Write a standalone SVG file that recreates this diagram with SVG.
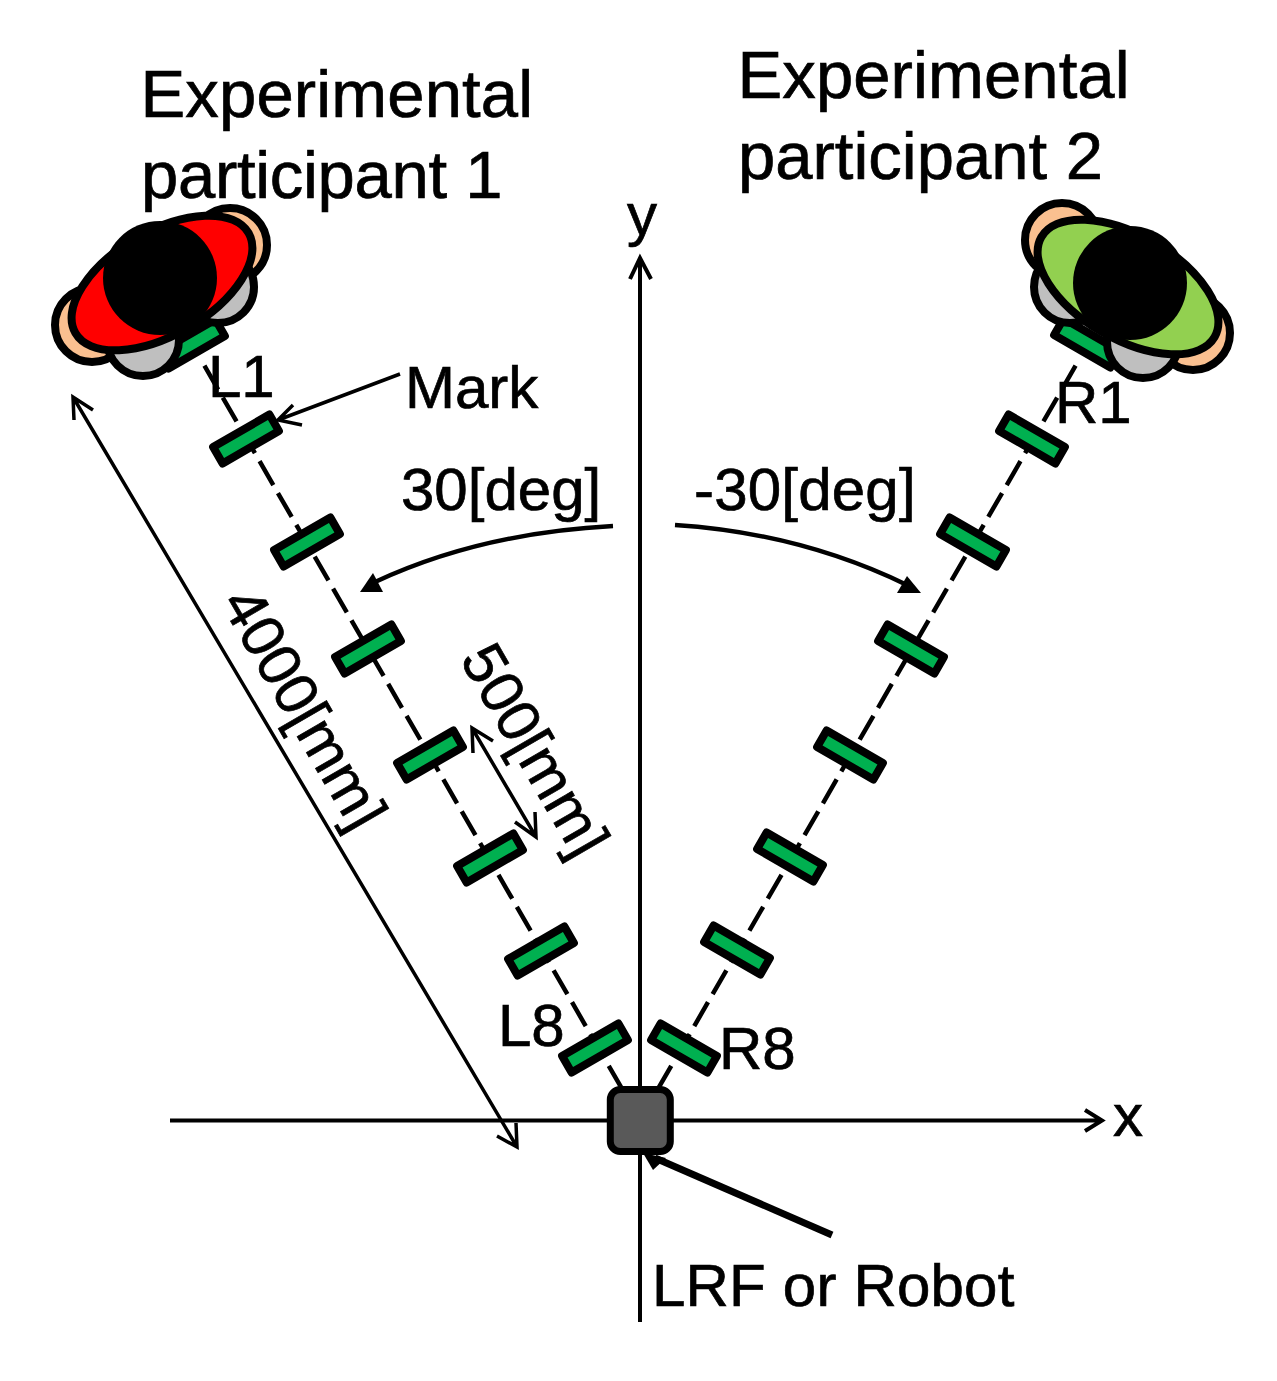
<svg xmlns="http://www.w3.org/2000/svg" width="1277" height="1381" viewBox="0 0 1277 1381">
<style>
text{font-family:"Liberation Sans",Arial,sans-serif;font-size:60px;fill:#000;stroke:#000;stroke-width:.7}
text.big{font-size:67px}
.mark{fill:#00b050;stroke:#000;stroke-width:8;stroke-linejoin:round}
.dash{fill:none;stroke:#000;stroke-width:4.5;stroke-dasharray:27.5 9.25;stroke-dashoffset:1.75}
.line{fill:none;stroke:#000;stroke-width:4}
.thin{fill:none;stroke:#000;stroke-width:3.5}
.ol{stroke:#000;stroke-width:8}
.peach{fill:#fac090}.gray{fill:#bfbfbf}
</style>
<defs>
<rect id="m" class="mark" x="-32.500" y="-9.500" width="65" height="19"/>
</defs>
<rect width="1277" height="1381" fill="#fff"/>
<g id="connectors">
<path class="dash" d="M640 1120L204 365"/>
<path class="dash" d="M640 1120L1076 365"/>
<path class="line" d="M170 1120.5H1102M1085 1110L1102 1120.5L1085 1131"/>
<path class="line" d="M640 1322V258M630 279L640 258L651 279"/>
<path class="thin" d="M73 397L517 1147M74 420L73 397L93 410M497 1136L517 1147L516 1123"/>
<path class="thin" d="M472 728L536 837M473 753L472 728L493 741M515 822L536 837L535 812"/>
<path class="thin" d="M400 374L278 420M293 405L278 420L302 425"/>
<path d="M832 1235L655 1158" fill="none" stroke="#000" stroke-width="7"/>
<path d="M643 1153L666 1158L653 1170Z"/>
<path d="M613 526Q480 533 375 582" fill="none" stroke="#000" stroke-width="4.500"/>
<path d="M360 592L373 573L383 592Z"/>
<path d="M675 525Q800 533 907 585" fill="none" stroke="#000" stroke-width="4.500"/>
<path d="M921 593L907 576L897 593Z"/>
</g>
<g id="L-marks">
<use href="#m" transform="translate(246 439) rotate(-30)"/>
<use href="#m" transform="translate(307 542) rotate(-30)"/>
<use href="#m" transform="translate(368 649) rotate(-30)"/>
<use href="#m" transform="translate(430 755) rotate(-30)"/>
<use href="#m" transform="translate(490 858) rotate(-30)"/>
<use href="#m" transform="translate(541 951) rotate(-30)"/>
<use href="#m" transform="translate(595 1048) rotate(-30)"/>
</g>
<g id="R-marks">
<use href="#m" transform="translate(1032 439) rotate(30)"/>
<use href="#m" transform="translate(973 542) rotate(30)"/>
<use href="#m" transform="translate(911 649) rotate(30)"/>
<use href="#m" transform="translate(850 755) rotate(30)"/>
<use href="#m" transform="translate(790 857) rotate(30)"/>
<use href="#m" transform="translate(737 950) rotate(30)"/>
<use href="#m" transform="translate(684 1048) rotate(30)"/>
</g>
<g id="participant1">
<use href="#m" transform="translate(192 344) rotate(-30)"/>
<circle class="ol peach" cx="230" cy="245" r="37"/>
<circle class="ol peach" cx="92" cy="325" r="37"/>
<circle class="ol gray" cx="218" cy="287" r="36"/>
<circle class="ol gray" cx="143" cy="340" r="36"/>
<ellipse class="ol" fill="#f00" cx="162" cy="283" rx="100" ry="52" transform="rotate(-30 162 283)"/>
<circle cx="160" cy="278" r="57"/>
</g>
<g id="participant2">
<use href="#m" transform="translate(1087 343) rotate(30)"/>
<circle class="ol peach" cx="1062" cy="240" r="37"/>
<circle class="ol peach" cx="1193" cy="333" r="37"/>
<circle class="ol gray" cx="1070" cy="287" r="36"/>
<circle class="ol gray" cx="1143" cy="342" r="36"/>
<ellipse class="ol" fill="#92d050" cx="1128" cy="287" rx="100" ry="52" transform="rotate(30 1128 287)"/>
<circle cx="1130" cy="283" r="57"/>
</g>
<g id="robot">
<rect x="610.300" y="1089.500" width="60" height="62" rx="10" fill="#595959" stroke="#000" stroke-width="7"/>
</g>
<g id="labels">
<text class="big" x="140.500" y="117" letter-spacing=".15">Experimental</text>
<text class="big" x="141" y="198" letter-spacing="-.3">participant 1</text>
<text class="big" x="737.500" y="98" letter-spacing=".1">Experimental</text>
<text class="big" x="738" y="179">participant 2</text>
<text x="627" y="235">y</text>
<text x="1113" y="1136">x</text>
<text x="405" y="408">Mark</text>
<text x="208" y="397">L1</text>
<text x="1055" y="423">R1</text>
<text x="498" y="1046">L8</text>
<text x="719" y="1069">R8</text>
<text x="401" y="510">30[deg]</text>
<text x="694" y="510" letter-spacing=".2">-30[deg]</text>
<text x="652" y="1306" letter-spacing=".2">LRF or Robot</text>
<text transform="translate(220 603) rotate(60)">4000[mm]</text>
<text transform="translate(459 659) rotate(60)">500[mm]</text>
</g>
</svg>
